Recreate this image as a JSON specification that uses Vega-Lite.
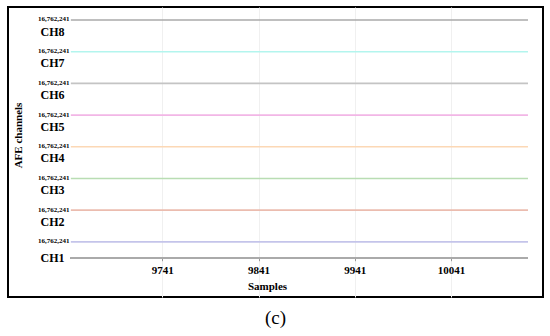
{
  "$schema": "https://vega.github.io/schema/vega-lite/v6.json",
  "width": 535,
  "height": 290,
  "autosize": {"type": "none"},
  "padding": {"left": 8, "top": 7, "right": 7, "bottom": 39},
  "background": "white",
  "title": {"text": "(c)", "orient": "bottom", "anchor": "middle", "offset": 12, "font": "Liberation Serif", "fontSize": 19, "fontWeight": "normal", "color": "black"},
  "config": {"view": {"stroke": "black", "strokeWidth": 2}},
  "data": {"values": [
    {"ch": "CH1", "idx": 1, "sample": 9646, "value": 16762241}, {"ch": "CH1", "idx": 1, "sample": 9741, "value": 16762241}, {"ch": "CH1", "idx": 1, "sample": 9841, "value": 16762241}, {"ch": "CH1", "idx": 1, "sample": 9941, "value": 16762241}, {"ch": "CH1", "idx": 1, "sample": 10041, "value": 16762241}, {"ch": "CH1", "idx": 1, "sample": 10121, "value": 16762241},
    {"ch": "CH2", "idx": 2, "sample": 9646, "value": 16762241}, {"ch": "CH2", "idx": 2, "sample": 9741, "value": 16762241}, {"ch": "CH2", "idx": 2, "sample": 9841, "value": 16762241}, {"ch": "CH2", "idx": 2, "sample": 9941, "value": 16762241}, {"ch": "CH2", "idx": 2, "sample": 10041, "value": 16762241}, {"ch": "CH2", "idx": 2, "sample": 10121, "value": 16762241},
    {"ch": "CH3", "idx": 3, "sample": 9646, "value": 16762241}, {"ch": "CH3", "idx": 3, "sample": 9741, "value": 16762241}, {"ch": "CH3", "idx": 3, "sample": 9841, "value": 16762241}, {"ch": "CH3", "idx": 3, "sample": 9941, "value": 16762241}, {"ch": "CH3", "idx": 3, "sample": 10041, "value": 16762241}, {"ch": "CH3", "idx": 3, "sample": 10121, "value": 16762241},
    {"ch": "CH4", "idx": 4, "sample": 9646, "value": 16762241}, {"ch": "CH4", "idx": 4, "sample": 9741, "value": 16762241}, {"ch": "CH4", "idx": 4, "sample": 9841, "value": 16762241}, {"ch": "CH4", "idx": 4, "sample": 9941, "value": 16762241}, {"ch": "CH4", "idx": 4, "sample": 10041, "value": 16762241}, {"ch": "CH4", "idx": 4, "sample": 10121, "value": 16762241},
    {"ch": "CH5", "idx": 5, "sample": 9646, "value": 16762241}, {"ch": "CH5", "idx": 5, "sample": 9741, "value": 16762241}, {"ch": "CH5", "idx": 5, "sample": 9841, "value": 16762241}, {"ch": "CH5", "idx": 5, "sample": 9941, "value": 16762241}, {"ch": "CH5", "idx": 5, "sample": 10041, "value": 16762241}, {"ch": "CH5", "idx": 5, "sample": 10121, "value": 16762241},
    {"ch": "CH6", "idx": 6, "sample": 9646, "value": 16762241}, {"ch": "CH6", "idx": 6, "sample": 9741, "value": 16762241}, {"ch": "CH6", "idx": 6, "sample": 9841, "value": 16762241}, {"ch": "CH6", "idx": 6, "sample": 9941, "value": 16762241}, {"ch": "CH6", "idx": 6, "sample": 10041, "value": 16762241}, {"ch": "CH6", "idx": 6, "sample": 10121, "value": 16762241},
    {"ch": "CH7", "idx": 7, "sample": 9646, "value": 16762241}, {"ch": "CH7", "idx": 7, "sample": 9741, "value": 16762241}, {"ch": "CH7", "idx": 7, "sample": 9841, "value": 16762241}, {"ch": "CH7", "idx": 7, "sample": 9941, "value": 16762241}, {"ch": "CH7", "idx": 7, "sample": 10041, "value": 16762241}, {"ch": "CH7", "idx": 7, "sample": 10121, "value": 16762241},
    {"ch": "CH8", "idx": 8, "sample": 9646, "value": 16762241}, {"ch": "CH8", "idx": 8, "sample": 9741, "value": 16762241}, {"ch": "CH8", "idx": 8, "sample": 9841, "value": 16762241}, {"ch": "CH8", "idx": 8, "sample": 9941, "value": 16762241}, {"ch": "CH8", "idx": 8, "sample": 10041, "value": 16762241}, {"ch": "CH8", "idx": 8, "sample": 10121, "value": 16762241}
  ]},
  "resolve": {"axis": {"y": "independent"}},
  "layer": [
    {
      "mark": {"type": "rule", "color": "#aaaaaa", "strokeWidth": 1.5},
      "encoding": {
        "x": {"datum": 9646, "type": "quantitative"},
        "x2": {"datum": 10121},
        "y": {
          "datum": 0.5, "type": "quantitative",
          "axis": {
            "orient": "left", "offset": -63, "domain": false, "ticks": false, "tickSize": 0, "grid": false,
            "values": [0.5, 1.65, 2.65, 3.65, 4.65, 5.65, 6.65, 7.65],
            "labelExpr": "'CH' + ceil(datum.value)",
            "labelFontSize": 12, "labelFont": "Liberation Serif", "labelFontWeight": "bold", "labelColor": "black",
            "labelAlign": "center", "labelBaseline": "middle", "labelPadding": 19, "labelOverlap": false, "labelFlush": false,
            "title": "AFE channels", "titleFont": "Liberation Serif", "titleFontWeight": "bold", "titleFontSize": 11, "titleColor": "black",
            "titleX": -53, "titleY": 128, "titleAngle": -90, "titleBaseline": "middle", "titleAlign": "center"
          }
        }
      }
    },
    {
      "mark": {"type": "line", "strokeWidth": 1.6},
      "encoding": {
        "x": {
          "field": "sample", "type": "quantitative",
          "scale": {"domain": [9580.7, 10136.6], "nice": false, "zero": false},
          "axis": {
            "offset": -39.3, "values": [9741, 9841, 9941, 10041], "format": "d",
            "domain": false, "tickSize": 3, "tickColor": "#999999",
            "labelFont": "Liberation Serif", "labelFontWeight": "bold", "labelFontSize": 11, "labelColor": "black",
            "labelPadding": 4, "labelFlush": false,
            "grid": true, "gridColor": "#f0f0f0",
            "title": "Samples", "titleFont": "Liberation Serif", "titleFontWeight": "bold", "titleFontSize": 11, "titleColor": "black",
            "titleX": 259, "titleY": 29, "titleBaseline": "middle"
          }
        },
        "y": {
          "field": "idx", "type": "quantitative",
          "scale": {"domain": [-0.74, 8.41], "nice": false, "zero": false},
          "axis": {
            "orient": "left", "offset": -63, "domain": false, "ticks": false, "tickSize": 0, "grid": false,
            "values": [1, 2, 3, 4, 5, 6, 7, 8],
            "labelExpr": "'16,762,241'",
            "labelFontSize": 7, "labelFont": "Liberation Serif", "labelFontWeight": "bold", "labelColor": "black",
            "labelAlign": "right", "labelBaseline": "middle", "labelPadding": 2, "labelOverlap": false, "labelFlush": false,
            "labelOffset": -1,
            "title": null
          }
        },
        "detail": {"field": "ch"},
        "color": {
          "field": "ch", "type": "nominal", "legend": null,
          "scale": {"domain": ["CH1", "CH2", "CH3", "CH4", "CH5", "CH6", "CH7", "CH8"],
                    "range": ["#c4c4ea", "#ebbcaf", "#b9ddb3", "#fcd8b5", "#f2b6e6", "#c4c4c4", "#b3f5ee", "#aaaaaa"]}
        }
      }
    }
  ]
}
